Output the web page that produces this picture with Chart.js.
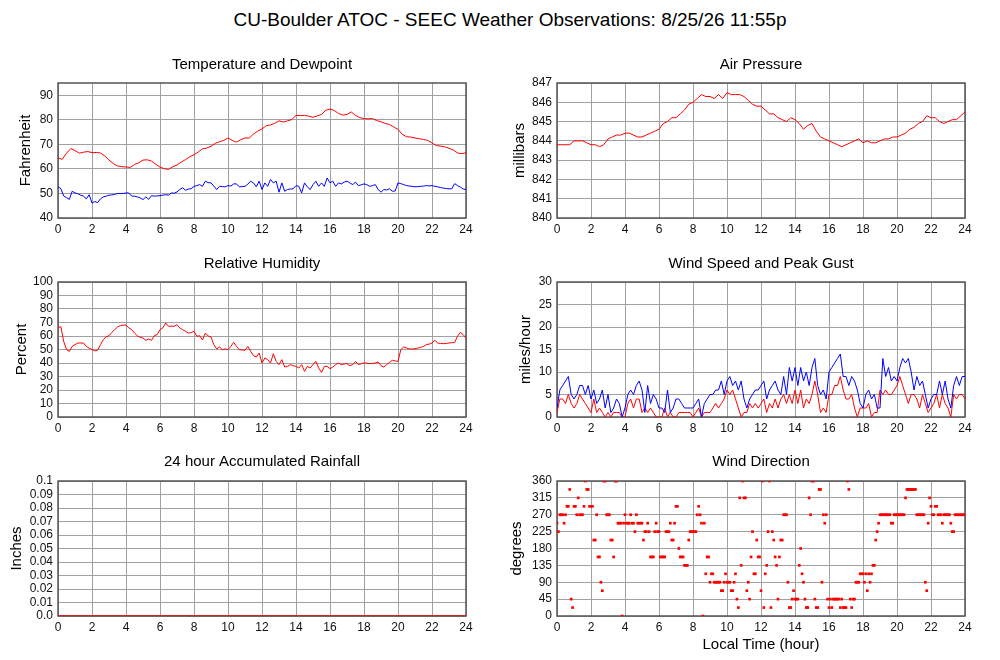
<!DOCTYPE html>
<html>
<head>
<meta charset="utf-8">
<title>SEEC Weather Observations</title>
<script src="https://cdn.jsdelivr.net/npm/chart.js@4.4.1/dist/chart.umd.min.js"></script>
<style>
  html, body { margin: 0; padding: 0; background: #fff; }
  body { width: 1000px; height: 660px; position: relative; overflow: hidden;
         font-family: 'Liberation Sans', Arial, sans-serif; }
  #main-title { position: absolute; left: 0; top: 9px; width: 1020px; text-align: center;
                font-size: 19px; line-height: 22px; color: #000; }
  canvas { position: absolute; }
</style>
</head>
<body>
<div id="main-title">CU-Boulder ATOC - SEEC Weather Observations: 8/25/26 11:55p</div>
<canvas id="temp-chart" width="478" height="190" style="left:0;top:50px"></canvas>
<canvas id="pres-chart" width="478" height="190" style="left:499px;top:50px"></canvas>
<canvas id="rh-chart" width="478" height="190" style="left:0;top:249px"></canvas>
<canvas id="wind-chart" width="478" height="190" style="left:499px;top:249px"></canvas>
<canvas id="rain-chart" width="478" height="191" style="left:0;top:447px"></canvas>
<canvas id="dir-chart" width="478" height="213" style="left:499px;top:447px"></canvas>
<script>
// sampling steps (hours) of the series below
const STEP_15 = 0.25;
const STEP_10 = 1 / 6;
const STEP_5 = 1 / 12;
const STEP_60 = 1;

const hourTicks = [0, 2, 4, 6, 8, 10, 12, 14, 16, 18, 20, 22, 24];

// Temperature, deg F, every 15 min
const temperatureF = [
  64.5, 63.9, 66.4, 68.3,  67.5, 66.4, 66.8, 67.1,  66.6, 66.7, 66.5, 65.3,
  63.6, 62.2, 61.2, 60.9,  60.8, 60.6, 61.8, 62.5,  63.6, 63.7, 63.2, 61.9,
  60.7, 60.1, 59.8, 60.9,  61.6, 62.8, 63.8, 64.9,  65.8, 66.9, 68.2, 68.5,
  69.2, 70.4, 71.1, 71.6,  72.6, 71.6, 70.9, 71.9,  72.6, 72.6, 74.2, 75.4,
  76.3, 77.6, 77.9, 78.6,  79.6, 79.1, 79.6, 80.1,  81.8, 81.7, 81.8, 81.5,
  81.0, 81.6, 82.2, 83.9,  84.4, 83.8, 82.6, 81.9,  82.2, 83.2, 81.8, 80.9,
  80.5, 80.4, 80.5, 79.7,  79.2, 78.5, 78.1, 77.1,  76.1, 74.1, 73.1, 73.0,
  72.6, 72.3, 72.0, 71.6,  70.6, 69.5, 69.3, 69.0,  68.4, 67.7, 66.5, 66.2,
  66.6
];

// Dewpoint, deg F, every 10 min
const dewpointF = [
  52.7, 52.0, 49.0, 48.3, 47.6, 50.9,  50.2, 49.9, 49.3, 48.9, 47.8, 49.5,
  46.1, 46.7, 46.3, 47.8, 48.6, 48.9,  49.3, 49.4, 49.6, 50.0, 50.0, 50.0,
  50.2, 50.2, 48.9, 48.9, 48.6, 48.2,  47.5, 48.6, 47.6, 49.1, 48.9, 49.0,
  49.1, 49.3, 49.5, 49.3, 50.2, 50.1,  50.6, 51.6, 52.3, 51.3, 51.8, 51.9,
  52.9, 53.2, 53.6, 52.9, 55.0, 54.4,  54.3, 53.0, 51.6, 52.9, 52.8, 52.7,
  53.2, 53.0, 53.9, 53.9, 52.7, 52.8,  52.9, 53.8, 55.0, 54.3, 52.7, 55.0,
  51.6, 54.3, 52.9, 55.7, 54.3, 55.0,  50.5, 54.3, 50.9, 51.6, 51.8, 51.9,
  53.2, 52.9, 50.2, 54.3, 52.7, 51.6,  53.6, 55.0, 52.9, 54.3, 52.9, 56.3,
  54.3, 55.0, 52.9, 54.3, 53.9, 54.6,  55.0, 54.3, 53.6, 54.6, 53.2, 53.5,
  53.9, 53.6, 52.9, 53.2, 53.6, 51.6,  50.5, 51.6, 51.4, 51.9, 50.9, 51.0,
  54.3, 54.0, 53.6, 53.2, 53.0, 52.9,  52.7, 52.8, 52.9, 53.0, 53.2, 53.1,
  53.2, 52.9, 52.7, 52.4, 52.2, 52.0,  51.9, 51.9, 54.0, 53.2, 52.6, 51.8,
  51.6
];

// Air pressure, millibars, every 15 min
const pressureMb = [
  843.8, 843.8, 843.8, 843.8,  844.0, 844.0, 844.0, 843.9,  843.8, 843.8, 843.7, 843.8,
  844.1, 844.2, 844.3, 844.3,  844.4, 844.4, 844.3, 844.2,  844.2, 844.3, 844.4, 844.5,
  844.6, 844.9, 845.0, 845.2,  845.2, 845.4, 845.6, 845.9,  846.0, 846.2, 846.4, 846.3,
  846.3, 846.2, 846.4, 846.2,  846.5, 846.4, 846.4, 846.4,  846.3, 846.1, 845.9, 845.8,
  845.8, 845.6, 845.4, 845.4,  845.2, 845.1, 845.0, 845.2,  845.1, 844.9, 844.6, 844.8,
  844.9, 844.5, 844.2, 844.1,  844.0, 843.9, 843.8, 843.7,  843.8, 843.9, 844.0, 844.1,
  843.9, 844.0, 843.9, 843.9,  844.0, 844.1, 844.1, 844.2,  844.2, 844.3, 844.4, 844.6,
  844.7, 844.9, 845.0, 845.3,  845.2, 845.2, 845.0, 844.9,  845.0, 845.1, 845.1, 845.3,
  845.5
];

// Relative humidity, percent, every 10 min
const humidityPct = [
  66, 67, 56, 50, 48.6, 52.3,  53.6, 54.8, 54.8, 54.8, 52.3, 51,
  50, 49, 49.5, 53.6, 57.3, 59.5,  60.2, 62.7, 64.7, 66.7, 67.7, 68,
  68.1, 66, 64.7, 62.2, 60.2, 59,  58.5, 56.8, 57.8, 56.8, 60.2, 61,
  64.7, 66, 69.6, 67.2, 67.2, 67.2,  68.4, 66, 64.7, 63.5, 62.2, 62.5,
  63.5, 59.8, 60.2, 57, 62.2, 60,  59.3, 53.6, 50.4, 51.9, 49.9, 50.5,
  49.9, 52.3, 55.3, 52.3, 49.9, 49.6,  49.4, 52.3, 48.6, 45.4, 44.4, 47.4,
  40, 43.7, 42.5, 40, 46.9, 41.2,  38.8, 42.5, 37, 37.5, 38.8, 38,
  37.5, 36.3, 38.8, 33.8, 37.5, 36.3,  38.8, 41.2, 36.3, 33, 37.5, 37.5,
  35.8, 37, 38.8, 40, 38.8, 39.3,  39.5, 38, 38.8, 41.2, 38.8, 39.5,
  40, 40, 39.5, 39.7, 40, 40.7,  38, 37, 38.8, 40.5, 42, 41.5,
  41.2, 49.9, 51.9, 51.1, 50.4, 50.4,  50.6, 51.1, 51.6, 52.3, 53.6, 54,
  54.8, 56.8, 54.8, 54.5, 54.3, 54.5,  54.8, 55, 55.3, 59.8, 62.7, 61,
  58.5
];

// Peak gust, mph, every 10 min
const gustMph = [
  2, 6, 7, 8, 9, 5,   4, 5, 7, 7, 5, 7,   4, 6, 3, 4, 6, 2,   5, 1, 2, 4, 3, 0,
  2, 5, 6, 5, 7, 8,   6, 1, 7, 3, 5, 4,   2, 2, 1, 6, 1, 2,   4, 4, 3, 2, 2, 2,
  2, 3, 4, 0, 3, 4,   5, 5, 6, 6, 8, 5,   8, 9, 7, 8, 6, 8,   4, 2, 4, 5, 6, 6,
  7, 8, 4, 6, 7, 8,   6, 5, 9, 5, 11, 8,  11, 7, 11, 8, 10, 7, 11, 13, 7, 5, 6, 4,
  10, 11, 12, 13, 14, 9,  9, 7, 9, 8, 6, 3,  2, 5, 6, 4, 5, 2,  2, 13, 9, 11, 8, 9,
  8, 11, 13, 12, 13, 10,  6, 9, 7, 8, 5, 2,  4, 5, 5, 8, 5, 8,  4, 2, 7, 9, 7, 9,
  9
];

// Wind speed, mph, every 10 min
const speedMph = [
  1, 4, 4, 3, 5, 3,   2, 3, 5, 4, 3, 2,   1, 4, 1, 2, 1, 0,   1, 0, 1, 1, 1, 0,
  0, 3, 4, 2, 4, 4,   1, 2, 1, 2, 1, 0,   0, 0, 2, 0, 1, 0,   0, 1, 1, 1, 1, 1,
  0, 1, 2, 0, 1, 1,   1, 2, 3, 2, 3, 4,   6, 5, 6, 4, 2, 0,   1, 1, 3, 2, 3, 2,
  3, 4, 1, 3, 2, 4,   2, 4, 5, 3, 5, 3,   6, 3, 6, 2, 4, 3,   5, 8, 5, 1, 2, 1,
  5, 5, 7, 7, 9, 6,   4, 4, 5, 2, 0, 2,   2, 2, 3, 0, 1, 1,   6, 5, 6, 5, 5, 6,
  7, 9, 7, 5, 3, 5,   5, 4, 2, 5, 3, 1,   2, 3, 5, 2, 5, 3,   2, 0, 5, 4, 5, 5,
  4
];

// 24 hour accumulated rainfall, inches, hourly
const rainIn = [
  0, 0, 0, 0, 0, 0, 0, 0, 0, 0, 0, 0,
  0, 0, 0, 0, 0, 0, 0, 0, 0, 0, 0, 0, 0
];

// Wind direction, degrees, every 5 min
const directionDeg = [
  247.5, 225, 270, 270, 270, 247.5, 270, 292.5, 292.5, 337.5, 45, 22.5,
  292.5, 292.5, 270, 315, 270, 270, 270, 292.5, 360, 337.5, 337.5, 292.5,
  292.5, 292.5, 202.5, 202.5, 270, 157.5, 157.5, 90, 67.5, 360, 360, 270,
  270, 270, 202.5, 202.5, 157.5, 360, 360, 247.5, 247.5, 247.5, 0, 247.5,
  270, 247.5, 247.5, 247.5, 270, 247.5, 247.5, 225, 270, 247.5, 247.5, 247.5,
  247.5, 202.5, 225, 225, 247.5, 225, 157.5, 157.5, 157.5, 225, 247.5, 225,
  225, 157.5, 157.5, 157.5, 157.5, 225, 225, 225, 247.5, 202.5, 202.5, 247.5,
  292.5, 292.5, 180, 157.5, 157.5, 157.5, 135, 135, 135, 202.5, 225, 225,
  225, 225, 225, 270, 292.5, 270, 247.5, 0, 247.5, 112.5, 157.5, 157.5,
  90, 112.5, 112.5, 90, 90, 90, 90, 90, 67.5, 67.5, 90, 112.5,
  90, 90, 90, 67.5, 67.5, 90, 112.5, 45, 22.5, 315, 135, 360,
  315, 315, 67.5, 90, 45, 157.5, 225, 112.5, 112.5, 202.5, 157.5, 157.5,
  67.5, 360, 22.5, 112.5, 135, 225, 360, 22.5, 225, 202.5, 157.5, 135,
  45, 157.5, 202.5, 202.5, 270, 270, 270, 90, 22.5, 22.5, 45, 67.5,
  45, 45, 45, 135, 180, 112.5, 90, 45, 22.5, 22.5, 315, 270,
  360, 360, 45, 22.5, 22.5, 337.5, 337.5, 90, 270, 247.5, 270, 45,
  22.5, 45, 22.5, 45, 45, 45, 45, 45, 22.5, 45, 22.5, 22.5,
  22.5, 360, 337.5, 45, 22.5, 45, 45, 90, 90, 90, 112.5, 112.5,
  112.5, 90, 112.5, 67.5, 112.5, 90, 112.5, 135, 135, 202.5, 225, 247.5,
  270, 270, 270, 270, 270, 270, 270, 270, 247.5, 247.5, 270, 270,
  270, 270, 270, 270, 270, 270, 315, 337.5, 337.5, 337.5, 337.5, 337.5,
  337.5, 337.5, 270, 270, 270, 270, 270, 270, 90, 67.5, 247.5, 315,
  292.5, 270, 270, 292.5, 292.5, 270, 270, 270, 247.5, 270, 270, 270,
  270, 270, 247.5, 225, 225, 270, 270, 270, 270, 270, 270, 270,
  270
];

const RED = '#ff0000';
const BLUE = '#0000ff';
const GRID = '#a0a0a0';
const FRAME = '#555555';

Chart.defaults.font.family = "'Liberation Sans', Arial, sans-serif";
Chart.defaults.color = '#111';

// pair each value with its hour of day
function timeSeries(values, stepHours) {
    return values.map((v, i) => ({ x: i * stepHours, y: v }));
}

function lineSet(values, stepHours, color) {
    return {
        data: timeSeries(values, stepHours),
        borderColor: color,
        borderWidth: 1,
        pointRadius: 0,
        tension: 0
    };
}

// box around the plot area, drawn under the data
const framePlugin = {
    id: 'frame',
    beforeDatasetsDraw(chart) {
        const { ctx, chartArea: a } = chart;
        ctx.save();
        ctx.strokeStyle = FRAME;
        ctx.lineWidth = 1.5;
        ctx.strokeRect(a.left, a.top, a.right - a.left, a.bottom - a.top);
        ctx.restore();
    }
};

function makePanel(canvasId, cfg) {
    const xScale = {
        type: 'linear',
        min: 0,
        max: 24,
        afterBuildTicks: (s) => { s.ticks = hourTicks.map(v => ({ value: v })); },
        ticks: { autoSkip: false, maxRotation: 0, padding: 4, font: { size: 12 }, color: '#111' },
        grid: { color: GRID, drawTicks: false },
        border: { display: false },
        title: cfg.xTitle
            ? { display: true, text: cfg.xTitle, font: { size: 15 }, color: '#000', padding: { top: 0, bottom: 6 } }
            : { display: false },
        afterFit: (s) => { s.height = cfg.xAxisHeight || 22; }
    };
    const yScale = {
        min: cfg.yMin,
        max: cfg.yMax,
        ticks: {
            stepSize: cfg.yStep,
            includeBounds: false,
            autoSkip: false,
            padding: 5,
            font: { size: 12 },
            color: '#111',
            callback: cfg.yLabel || ((v) => v)
        },
        grid: { color: GRID, drawTicks: false },
        border: { display: false },
        title: { display: true, text: cfg.yTitle, font: { size: 15 }, color: '#000',
                 padding: { top: cfg.yTitlePad, bottom: 0 } },
        afterFit: (s) => { s.width = 58; }
    };

    return new Chart(document.getElementById(canvasId), {
        type: 'line',
        data: { datasets: cfg.datasets },
        options: {
            responsive: false,
            animation: false,
            layout: { padding: { top: 0, right: 12, bottom: 0, left: 0 } },
            plugins: {
                legend: { display: false },
                tooltip: { enabled: false },
                title: {
                    display: true,
                    text: cfg.title,
                    fullSize: false,
                    color: '#000',
                    font: { size: 15, weight: 'normal' },
                    padding: { top: 6, bottom: cfg.titleGap }
                }
            },
            scales: { x: xScale, y: yScale }
        },
        plugins: [framePlugin]
    });
}

makePanel('temp-chart', {
    title: 'Temperature and Dewpoint', titleGap: 9,
    yTitle: 'Fahrenheit', yTitlePad: 17,
    yMin: 40, yMax: 95, yStep: 10,
    datasets: [
        lineSet(temperatureF, STEP_15, RED),
        lineSet(dewpointF, STEP_10, BLUE)
    ]
});

makePanel('pres-chart', {
    title: 'Air Pressure', titleGap: 9,
    yTitle: 'millibars', yTitlePad: 12,
    yMin: 840, yMax: 847, yStep: 1,
    datasets: [lineSet(pressureMb, STEP_15, RED)]
});

makePanel('rh-chart', {
    title: 'Relative Humidity', titleGap: 9,
    yTitle: 'Percent', yTitlePad: 13,
    yMin: 0, yMax: 100, yStep: 10,
    datasets: [lineSet(humidityPct, STEP_10, RED)]
});

makePanel('wind-chart', {
    title: 'Wind Speed and Peak Gust', titleGap: 9,
    yTitle: 'miles/hour', yTitlePad: 18,
    yMin: 0, yMax: 30, yStep: 5,
    datasets: [
        lineSet(gustMph, STEP_10, BLUE),
        lineSet(speedMph, STEP_10, RED)
    ]
});

const rainSet = lineSet(rainIn, STEP_60, RED);
rainSet.borderWidth = 1.5;
makePanel('rain-chart', {
    title: '24 hour Accumulated Rainfall', titleGap: 10,
    yTitle: 'Inches', yTitlePad: 8,
    yMin: 0, yMax: 0.1, yStep: 0.01,
    yLabel: (v) => (v === 0 ? '0.0' : String(Math.round(v * 100) / 100)),
    datasets: [rainSet]
});

makePanel('dir-chart', {
    title: 'Wind Direction', titleGap: 10,
    yTitle: 'degrees', yTitlePad: 9,
    yMin: 0, yMax: 360, yStep: 45,
    xTitle: 'Local Time (hour)', xAxisHeight: 44,
    datasets: [{
        data: timeSeries(directionDeg, STEP_5),
        showLine: false,
        pointStyle: 'rect',
        pointRadius: 1.9,
        pointBorderWidth: 0,
        pointBackgroundColor: RED,
        borderColor: RED
    }]
});
</script>
</body>
</html>
